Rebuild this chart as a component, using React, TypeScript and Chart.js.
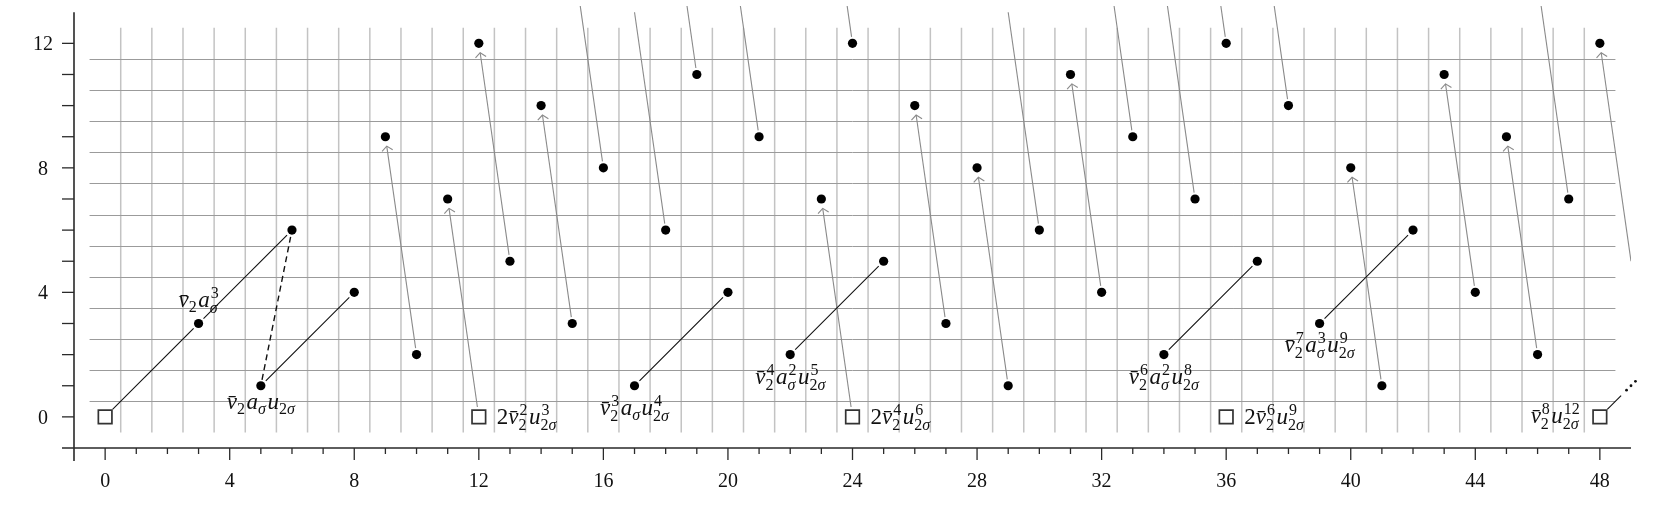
import React, { useEffect, useRef } from "react";
import { Chart, registerables } from "chart.js";

Chart.register(...registerables);

// ---------- data ----------
const xTickValues = [0, 4, 8, 12, 16, 20, 24, 28, 32, 36, 40, 44, 48];
const xTickLabels = ["0", "4", "8", "12", "16", "20", "24", "28", "32", "36", "40", "44", "48"];
const yTickValues = [0, 4, 8, 12];
const yTickLabels = ["0", "4", "8", "12"];

const dots: [number, number][] = [
  [3, 3], [5, 1], [6, 6], [8, 4], [9, 9], [10, 2], [11, 7], [12, 12], [13, 5], [14, 10],
  [15, 3], [16, 8], [17, 1], [18, 6], [19, 11], [20, 4], [21, 9], [22, 2], [23, 7], [24, 12],
  [25, 5], [26, 10], [27, 3], [28, 8], [29, 1], [30, 6], [31, 11], [32, 4], [33, 9], [34, 2],
  [35, 7], [36, 12], [37, 5], [38, 10], [39, 3], [40, 8], [41, 1], [42, 6], [43, 11], [44, 4],
  [45, 9], [46, 2], [47, 7], [48, 12],
];
const squares: [number, number][] = [[0, 0], [12, 0], [24, 0], [36, 0], [48, 0]];

const aSigmaFrom: [number, number][] = [[0, 0], [3, 3], [5, 1], [17, 1], [22, 2], [34, 2], [39, 3]];
const aSigmaTo: [number, number][] = [[3, 3], [6, 6], [8, 4], [20, 4], [25, 5], [37, 5], [42, 6]];
const dashedFrom: [number, number][] = [[5, 1]];
const dashedTo: [number, number][] = [[6, 6]];
const continuationFrom: [number, number] = [48, 0];
const continuationTo: [number, number] = [49, 1];

const diffFrom: [number, number][] = [
  [10, 2], [12, 0], [13, 5], [15, 3], [16, 8], [18, 6], [19, 11], [21, 9], [24, 0], [24, 12],
  [27, 3], [29, 1], [30, 6], [32, 4], [33, 9], [35, 7], [36, 12], [38, 10], [41, 1], [44, 4],
  [46, 2], [47, 7], [49, 5],
];
const diffTo: [number, number][] = [
  [9, 9], [11, 7], [12, 12], [14, 10], [15, 15], [17, 13], [18, 18], [20, 16], [23, 7], [23, 19],
  [26, 10], [28, 8], [29, 13], [31, 11], [32, 16], [34, 14], [35, 19], [37, 17], [40, 8], [43, 11],
  [45, 9], [46, 14], [48, 12],
];

const labelAnchors: [number, number][] = [
  [3, 3], [5, 1], [12, 0], [17, 1], [22, 2], [24, 0], [34, 2], [36, 0], [39, 3], [48, 0],
];
const labelSides = ["above", "below", "right", "below", "below", "right", "below", "right", "below", "left"];
const labelTexts = [
  "v\u0304_2 a_σ^3",
  "v\u0304_2 a_σ u_2σ",
  "2v\u0304_2^2 u_2σ^3",
  "v\u0304_2^3 a_σ u_2σ^4",
  "v\u0304_2^4 a_σ^2 u_2σ^5",
  "2v\u0304_2^4 u_2σ^6",
  "v\u0304_2^6 a_σ^2 u_2σ^8",
  "2v\u0304_2^6 u_2σ^9",
  "v\u0304_2^7 a_σ^3 u_2σ^9",
  "v\u0304_2^8 u_2σ^12",
];

// ---------- helpers ----------
const FONT = '"Liberation Serif", "DejaVu Serif", serif';
const BASE = 23;
const SCRIPT = 16;

type Piece = { base: string; sub: string; sup: string };

function parseMath(text: string): Piece[] {
  return text.split(" ").map((tok) => {
    const m = tok.match(/^([^_^]+)(?:_([^_^]+))?(?:\^([^_^]+))?$/);
    return { base: m ? m[1] : tok, sub: m && m[2] ? m[2] : "", sup: m && m[3] ? m[3] : "" };
  });
}

function glyphs(s: string): string[] {
  return s.match(/[^\u0304]\u0304?/gu) || [];
}

function fontFor(ch: string, size: number) {
  return /[0-9]/.test(ch) ? `${size}px ${FONT}` : `italic ${size}px ${FONT}`;
}

function strWidth(ctx: CanvasRenderingContext2D, s: string, size: number) {
  let w = 0;
  for (const g of glyphs(s)) {
    ctx.font = fontFor(g, size);
    w += ctx.measureText(g).width;
  }
  return w;
}

function drawStr(ctx: CanvasRenderingContext2D, s: string, size: number, x: number, y: number) {
  let cx = x;
  for (const g of glyphs(s)) {
    ctx.font = fontFor(g, size);
    ctx.fillText(g, cx, y);
    cx += ctx.measureText(g).width;
  }
  return cx;
}

function mathWidth(ctx: CanvasRenderingContext2D, pieces: Piece[]) {
  let w = 0;
  pieces.forEach((p, i) => {
    w += strWidth(ctx, p.base, BASE);
    const sw = Math.max(strWidth(ctx, p.sub, SCRIPT), strWidth(ctx, p.sup, SCRIPT) + (p.sup ? 1 : 0));
    w += sw;
    if (i < pieces.length - 1) w += 1.5;
  });
  return w;
}

function drawMath(ctx: CanvasRenderingContext2D, pieces: Piece[], x: number, y: number) {
  let cx = x;
  pieces.forEach((p) => {
    cx = drawStr(ctx, p.base, BASE, cx, y);
    const both = p.sub && p.sup;
    let end = cx;
    if (p.sub) end = Math.max(end, drawStr(ctx, p.sub, SCRIPT, cx, y + (both ? 6 : 5)));
    if (p.sup) end = Math.max(end, drawStr(ctx, p.sup, SCRIPT, cx + 1, y - 9));
    cx = end + 1.5;
  });
}

function shorten(x1: number, y1: number, x2: number, y2: number, a: number, b: number) {
  const dx = x2 - x1;
  const dy = y2 - y1;
  const L = Math.hypot(dx, dy) || 1;
  const ux = dx / L;
  const uy = dy / L;
  return [x1 + ux * a, y1 + uy * a, x2 - ux * b, y2 - uy * b, ux, uy];
}

const isShown = (p: [number, number]) => p[0] <= 48 && p[1] <= 12 && p[0] >= 0 && p[1] >= 0;
const isSquare = (p: [number, number]) => squares.some((s) => s[0] === p[0] && s[1] === p[1]);

const chartPlugin = {
  id: "spectral",
  beforeDatasetsDraw(chart: any) {
    const ctx: CanvasRenderingContext2D = chart.ctx;
    const xs = chart.scales.x;
    const ys = chart.scales.y;
    const X = (v: number) => xs.getPixelForValue(v);
    const Y = (v: number) => ys.getPixelForValue(v);
    ctx.save();

    // grid: vertical
    ctx.strokeStyle = "rgba(195,195,195,1)";
    ctx.lineWidth = 1.5;
    for (let i = 0; i < 48; i++) {
      const gx = X(i + 0.5);
      ctx.beginPath();
      ctx.moveTo(gx, Y(-0.5));
      ctx.lineTo(gx, Y(12.5));
      ctx.stroke();
    }
    // grid: horizontal
    ctx.strokeStyle = "rgba(155,155,155,1)";
    ctx.lineWidth = 1;
    for (let j = 0; j < 12; j++) {
      const gy = Math.round(Y(j + 0.5)) + 0.5;
      ctx.beginPath();
      ctx.moveTo(X(-0.5), gy);
      ctx.lineTo(X(48.5), gy);
      ctx.stroke();
    }

    // axes
    ctx.strokeStyle = "#2a2a2a";
    ctx.lineWidth = 1.6;
    const ax = X(-1);
    const ay = Y(-1);
    ctx.beginPath();
    ctx.moveTo(ax - 12, ay);
    ctx.lineTo(X(49), ay);
    ctx.moveTo(ax, ay + 13);
    ctx.lineTo(ax, Y(13));
    ctx.stroke();
    ctx.lineWidth = 1.3;
    for (let i = 0; i <= 48; i++) {
      const tx = X(i);
      const len = i % 4 === 0 ? 12 : 6;
      ctx.beginPath();
      ctx.moveTo(tx, ay);
      ctx.lineTo(tx, ay + len);
      ctx.stroke();
    }
    for (let j = 0; j <= 12; j++) {
      const ty = Y(j);
      ctx.beginPath();
      ctx.moveTo(ax, ty);
      ctx.lineTo(ax - 12, ty);
      ctx.stroke();
    }
    ctx.fillStyle = "#111";
    ctx.font = `20px ${FONT}`;
    ctx.textAlign = "center";
    ctx.textBaseline = "alphabetic";
    xTickValues.forEach((v, i) => ctx.fillText(xTickLabels[i], X(v), ay + 39));
    yTickValues.forEach((v, i) => ctx.fillText(yTickLabels[i], ax - 31, Y(v) + 7));

    // differentials (grey arrows), clipped to chart area
    const ca = chart.chartArea;
    ctx.save();
    ctx.beginPath();
    ctx.rect(ca.left, ca.top, ca.right - ca.left, ca.bottom - ca.top);
    ctx.clip();
    ctx.strokeStyle = "#8a8a8a";
    ctx.lineWidth = 1.1;
    diffFrom.forEach((f, i) => {
      const t = diffTo[i];
      const srcGap = isShown(f) ? (isSquare(f) ? 10 : 6.5) : 0;
      const tgtShown = isShown(t);
      const [x1, y1, x2, y2, ux, uy] = shorten(X(f[0]), Y(f[1]), X(t[0]), Y(t[1]), srcGap, tgtShown ? 9.5 : 0);
      ctx.beginPath();
      ctx.moveTo(x1, y1);
      ctx.lineTo(x2, y2);
      ctx.stroke();
      if (tgtShown) {
        const ang = Math.atan2(uy, ux);
        const wl = 7;
        const ha = (50 * Math.PI) / 180;
        ctx.beginPath();
        ctx.moveTo(x2 - wl * Math.cos(ang - ha), y2 - wl * Math.sin(ang - ha));
        ctx.lineTo(x2, y2);
        ctx.lineTo(x2 - wl * Math.cos(ang + ha), y2 - wl * Math.sin(ang + ha));
        ctx.stroke();
      }
    });
    ctx.restore();

    // a_sigma multiplications
    ctx.strokeStyle = "#111";
    ctx.lineWidth = 1.1;
    aSigmaFrom.forEach((f, i) => {
      const t = aSigmaTo[i];
      const [x1, y1, x2, y2] = shorten(X(f[0]), Y(f[1]), X(t[0]), Y(t[1]), isSquare(f) ? 10.5 : 7, isSquare(t) ? 10.5 : 7);
      ctx.beginPath();
      ctx.moveTo(x1, y1);
      ctx.lineTo(x2, y2);
      ctx.stroke();
    });
    // dashed
    ctx.setLineDash([6, 4]);
    ctx.lineWidth = 1.4;
    dashedFrom.forEach((f, i) => {
      const t = dashedTo[i];
      const [x1, y1, x2, y2] = shorten(X(f[0]), Y(f[1]), X(t[0]), Y(t[1]), 6, 7);
      ctx.beginPath();
      ctx.moveTo(x1, y1);
      ctx.lineTo(x2, y2);
      ctx.stroke();
    });
    ctx.setLineDash([]);
    // continuation with dots
    {
      const f = continuationFrom;
      const t = continuationTo;
      ctx.lineWidth = 1.1;
      const [x1, y1, x2, y2, ux, uy] = shorten(X(f[0]), Y(f[1]), X(t[0]), Y(t[1]), 10.5, 14);
      ctx.beginPath();
      ctx.moveTo(x1, y1);
      ctx.lineTo(x2, y2);
      ctx.stroke();
      const cx = X(t[0]);
      const cy = Y(t[1]);
      ctx.fillStyle = "#111";
      [-6.3, 0, 6.3].forEach((d) => {
        ctx.beginPath();
        ctx.arc(cx + ux * d, cy + uy * d, 1.4, 0, Math.PI * 2);
        ctx.fill();
      });
    }
    ctx.restore();
  },
  afterDatasetsDraw(chart: any) {
    const ctx: CanvasRenderingContext2D = chart.ctx;
    const xs = chart.scales.x;
    const ys = chart.scales.y;
    ctx.save();
    ctx.fillStyle = "#111";
    ctx.textAlign = "left";
    ctx.textBaseline = "alphabetic";
    labelTexts.forEach((txt, i) => {
      const pieces = parseMath(txt);
      const w = mathWidth(ctx, pieces);
      const hasSup = pieces.some((p) => p.sup);
      const px = xs.getPixelForValue(labelAnchors[i][0]);
      const py = ys.getPixelForValue(labelAnchors[i][1]);
      const side = labelSides[i];
      let lx = px - w / 2;
      let by = py;
      if (side === "above") {
        by = py - 16;
      } else if (side === "below") {
        by = py + (hasSup ? 29 : 23);
      } else if (side === "right") {
        lx = px + 18;
        by = py + 7;
      } else {
        lx = px - 20 - w;
        by = py + 6;
      }
      drawMath(ctx, pieces, lx, by);
    });
    ctx.restore();
  },
};

export default function App() {
  const canvasRef = useRef<HTMLCanvasElement | null>(null);
  useEffect(() => {
    if (!canvasRef.current) return;
    const chart = new Chart(canvasRef.current, {
      type: "scatter",
      data: {
        datasets: [
          {
            label: "classes",
            data: dots.map(([x, y]) => ({ x, y })),
            pointRadius: 4.6,
            pointHoverRadius: 4.6,
            backgroundColor: "#000",
            borderWidth: 0,
          },
          {
            label: "generators",
            data: squares.map(([x, y]) => ({ x, y })),
            pointStyle: "rect",
            pointRadius: 9.6,
            pointHoverRadius: 9.6,
            backgroundColor: "rgba(255,255,255,0)",
            borderColor: "#333",
            borderWidth: 1.7,
          },
        ],
      },
      options: {
        animation: false,
        responsive: false,
        events: [],
        layout: { autoPadding: false, padding: { left: 74, right: 30, top: 6, bottom: 74 } },
        plugins: { legend: { display: false }, tooltip: { enabled: false } },
        scales: {
          x: { type: "linear", min: -1, max: 49, display: false },
          y: { type: "linear", min: -1, max: 13.2, display: false },
        },
      },
      plugins: [chartPlugin],
    });
    return () => chart.destroy();
  }, []);
  return (
    <div style={{ position: "fixed", left: 0, top: 0, width: 1661, height: 522, background: "#fff" }}>
      <canvas ref={canvasRef} width={1661} height={522} style={{ display: "block" }} />
    </div>
  );
}
